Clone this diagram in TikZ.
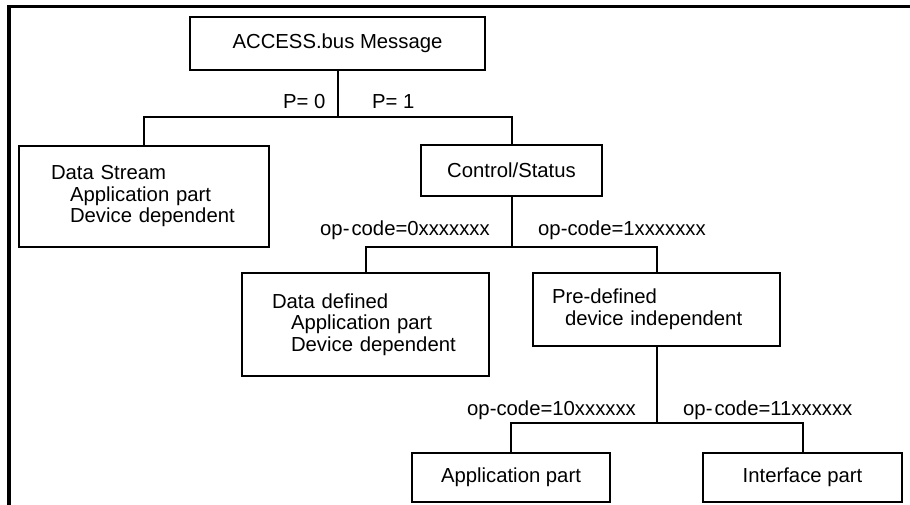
\documentclass[tikz,border=0pt]{standalone}
\usepackage{fontspec}
\setmainfont{Liberation Sans}
\begin{document}
\begin{tikzpicture}[x=1pt,y=-1pt,
  font=\fontsize{20.3}{21.5}\selectfont,
  box/.style={draw, line width=2pt, inner sep=0pt, align=center},
  textbox/.style={draw, line width=2pt, inner ysep=0pt, align=left},
  link/.style={line width=2pt},
  lbl/.style={anchor=west, inner sep=0pt},
  frame/.style={line width=3.5pt}]
\useasboundingbox (0,0) rectangle (910,505);

% outer frame (top and left edges only)
\draw[frame] (9,505) -- (9,6.5) -- (910,6.5);

% nodes
\node[box, minimum width=295pt, minimum height=53pt] (msg) at (337.5,43.5) {ACCESS.bus Message};
\node[textbox, inner xsep=32pt, text width=186pt, minimum height=101pt] (ds) at (144,196.5)
  {Data Stream\\\hspace*{19pt}Application part\\\hspace*{19pt}Device dependent};
\node[box, minimum width=181pt, minimum height=51pt] (ctl) at (511.5,170.5) {Control/Status};
\node[textbox, inner xsep=30pt, text width=187pt, minimum height=103pt] (dd) at (365.5,324.5)
  {Data defined\\\hspace*{19pt}Application part\\\hspace*{19pt}Device dependent};
\node[textbox, inner xsep=19pt, text width=209pt, minimum height=73pt] (pd) at (656.5,309.5)
  {Pre-defined\\\hspace*{13pt}device independent};
\node[box, minimum width=198pt, minimum height=49pt] (ap) at (511,477.5) {Application part};
\node[box, minimum width=199pt, minimum height=49pt] (ip) at (802.5,477.5) {Interface part};

% branch points
\coordinate (b1) at (337.5,117);
\coordinate (b2) at (511.5,247);
\coordinate (b3) at (656.5,423);

% connectors
\draw[link] (msg.south) -- (b1);
\draw[link] (ds.north) |- (b1) -| (ctl.north);
\draw[link] (ctl.south) -- (b2);
\draw[link] (dd.north) |- (b2) -| (pd.north);
\draw[link] (pd.south) -- (b3);
\draw[link] (ap.north) |- (b3) -| (ip.north);

% branch labels
\node[lbl] (p0) at (283,102) {P= 0};
\node[lbl] (p1) at (372,102) {P= 1};
\node[lbl] (op0) at (320,230) {op-\kern2pt code=0xxxxxxx};
\node[lbl] (op1) at (538,230) {op-code=1xxxxxxx};
\node[lbl] (op10) at (467,410) {op-code=10xxxxxx};
\node[lbl] (op11) at (683,410) {op-\kern2pt code=11xxxxxx};
\end{tikzpicture}
\end{document}
